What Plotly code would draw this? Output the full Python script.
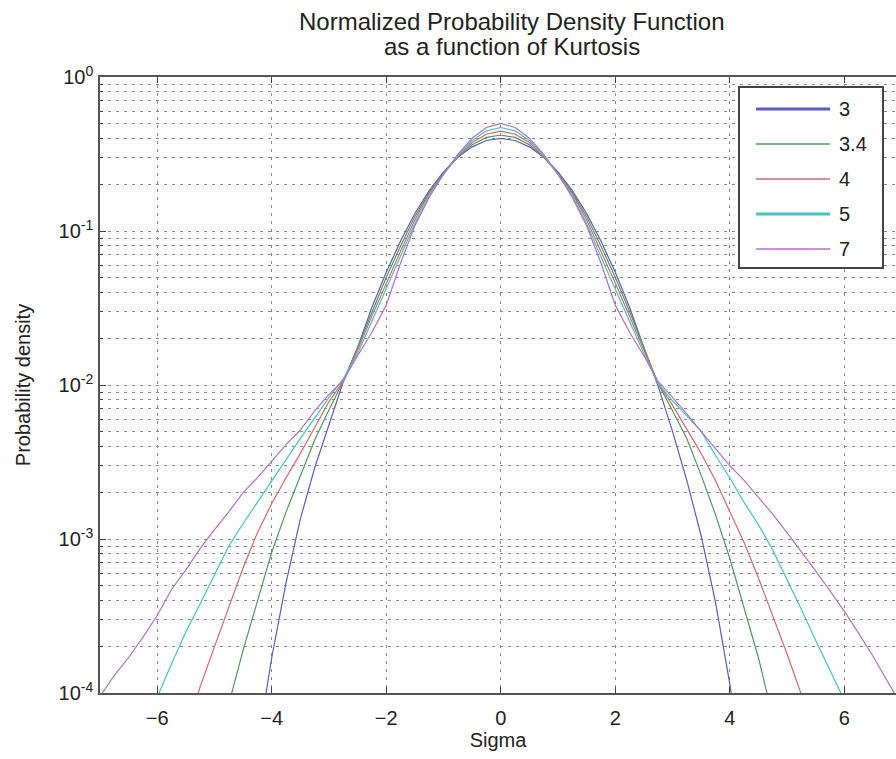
import plotly.graph_objects as go

# ---------------- data ----------------
kurtosis_names = ["3", "3.4", "4", "5", "7"]

x_k3 = [-4.25, -4.0, -3.75, -3.5, -3.25, -3.0, -2.75, -2.5, -2.25, -2.0, -1.75, -1.5, -1.25, -1.0,
        -0.75, -0.5, -0.25, 0.0, 0.25, 0.5, 0.75, 1.0, 1.25, 1.5, 1.75, 2.0, 2.25, 2.5, 2.75, 3.0,
        3.25, 3.5, 3.75, 4.0, 4.25]
y_k3 = [4.5e-5, 1.7e-4, 5.2e-4, 1.35e-3, 2.9e-3, 5.5e-3, 1.05e-2, 1.75e-2, 3.2e-2, 5.4e-2, 8.6e-2,
        0.130, 0.183, 0.242, 0.301, 0.352, 0.387, 0.399, 0.387, 0.352, 0.301, 0.242, 0.183, 0.130,
        0.086, 0.054, 0.032, 0.0175, 0.0098, 0.0050, 0.0024, 0.00105, 3.9e-4, 1.15e-4, 2.8e-5]

x_k34 = [-5.0, -4.75, -4.5, -4.25, -4.0, -3.75, -3.5, -3.25, -3.0, -2.75, -2.5, -2.25, -2.0, -1.75,
         -1.5, -1.25, -1.0, -0.75, -0.5, -0.25, 0.0, 0.25, 0.5, 0.75, 1.0, 1.25, 1.5, 1.75, 2.0,
         2.25, 2.5, 2.75, 3.0, 3.25, 3.5, 3.75, 4.0, 4.25, 4.5, 4.75, 5.0]
y_k34 = [4.0e-5, 8.5e-5, 1.9e-4, 4.0e-4, 8.2e-4, 1.5e-3, 2.6e-3, 4.4e-3, 6.9e-3, 1.06e-2, 1.75e-2,
         3.0e-2, 5.0e-2, 8.0e-2, 0.124, 0.178, 0.238, 0.302, 0.363, 0.405, 0.420, 0.405, 0.363,
         0.302, 0.238, 0.178, 0.124, 0.080, 0.050, 0.030, 0.0175, 0.0102, 0.0068, 0.0045, 0.0026,
         0.00144, 7.5e-4, 3.6e-4, 1.7e-4, 7.0e-5, 3.0e-5]

x_k4 = [-5.5, -5.25, -5.0, -4.75, -4.5, -4.25, -4.0, -3.75, -3.5, -3.25, -3.0, -2.75, -2.5, -2.25,
        -2.0, -1.75, -1.5, -1.25, -1.0, -0.75, -0.5, -0.25, 0.0, 0.25, 0.5, 0.75, 1.0, 1.25, 1.5,
        1.75, 2.0, 2.25, 2.5, 2.75, 3.0, 3.25, 3.5, 3.75, 4.0, 4.25, 4.5, 4.75, 5.0, 5.25, 5.5]
y_k4 = [5.5e-5, 1.1e-4, 2.0e-4, 3.6e-4, 6.5e-4, 1.1e-3, 1.7e-3, 2.5e-3, 3.6e-3, 5.3e-3, 7.8e-3,
        1.06e-2, 1.68e-2, 2.8e-2, 4.6e-2, 7.4e-2, 0.118, 0.175, 0.234, 0.305, 0.375, 0.425, 0.445,
        0.425, 0.375, 0.305, 0.234, 0.175, 0.118, 0.074, 0.046, 0.028, 0.0168, 0.0102, 0.0074,
        0.0052, 0.0036, 0.0024, 0.0015, 9.5e-4, 5.6e-4, 3.2e-4, 1.8e-4, 9.8e-5, 5.0e-5]

x_k5 = [-6.25, -6.0, -5.75, -5.5, -5.25, -5.0, -4.75, -4.5, -4.25, -4.0, -3.75, -3.5, -3.25, -3.0,
        -2.75, -2.5, -2.25, -2.0, -1.75, -1.5, -1.25, -1.0, -0.75, -0.5, -0.25, 0.0, 0.25, 0.5,
        0.75, 1.0, 1.25, 1.5, 1.75, 2.0, 2.25, 2.5, 2.75, 3.0, 3.25, 3.5, 3.75, 4.0, 4.25, 4.5,
        4.75, 5.0, 5.25, 5.5, 5.75, 6.0, 6.25]
y_k5 = [5.0e-5, 9.4e-5, 1.55e-4, 2.5e-4, 3.8e-4, 5.9e-4, 9.0e-4, 1.26e-3, 1.74e-3, 2.4e-3, 3.3e-3,
        4.5e-3, 6.1e-3, 8.3e-3, 1.1e-2, 1.6e-2, 2.6e-2, 4.2e-2, 6.8e-2, 0.112, 0.170, 0.232, 0.310,
        0.387, 0.447, 0.470, 0.447, 0.387, 0.310, 0.232, 0.170, 0.112, 0.068, 0.042, 0.026, 0.016,
        0.0102, 0.0079, 0.0063, 0.0050, 0.0035, 0.0025, 0.00173, 0.00124, 8.5e-4, 5.5e-4, 3.5e-4,
        2.2e-4, 1.4e-4, 9.0e-5, 5.0e-5]

x_k7 = [-7.0, -6.75, -6.5, -6.25, -6.0, -5.75, -5.5, -5.25, -5.0, -4.75, -4.5, -4.25, -4.0, -3.75,
        -3.5, -3.25, -3.0, -2.75, -2.5, -2.25, -2.0, -1.75, -1.5, -1.25, -1.0, -0.75, -0.5, -0.25,
        0.0, 0.25, 0.5, 0.75, 1.0, 1.25, 1.5, 1.75, 2.0, 2.25, 2.5, 2.75, 3.0, 3.25, 3.5, 3.75,
        4.0, 4.25, 4.5, 4.75, 5.0, 5.25, 5.5, 5.75, 6.0, 6.25, 6.5, 6.75, 7.0]
y_k7 = [9.5e-5, 1.3e-4, 1.7e-4, 2.3e-4, 3.2e-4, 4.7e-4, 6.3e-4, 8.7e-4, 1.15e-3, 1.5e-3, 2.0e-3,
        2.5e-3, 3.2e-3, 4.1e-3, 5.1e-3, 6.8e-3, 8.7e-3, 1.07e-2, 1.55e-2, 2.2e-2, 3.3e-2, 6.2e-2,
        0.108, 0.165, 0.235, 0.315, 0.400, 0.470, 0.500, 0.470, 0.400, 0.315, 0.235, 0.165, 0.108,
        0.062, 0.033, 0.022, 0.0155, 0.0105, 8.3e-3, 6.5e-3, 5.0e-3, 3.9e-3, 3.0e-3, 2.4e-3,
        1.86e-3, 1.45e-3, 1.1e-3, 8.3e-4, 6.2e-4, 4.6e-4, 3.4e-4, 2.45e-4, 1.74e-4, 1.2e-4, 8.3e-5]

x_tick_vals = [-6, -4, -2, 0, 2, 4, 6]
x_tick_text = ["\u22126", "\u22124", "\u22122", "0", "2", "4", "6"]
y_tick_vals = [1e-4, 1e-3, 1e-2, 1e-1, 1e0]
y_tick_text = ["10<sup>-4</sup>", "10<sup>-3</sup>", "10<sup>-2</sup>",
               "10<sup>-1</sup>", "10<sup>0</sup>"]
y_minor_vals = [k * 10.0 ** e for e in range(-4, 0) for k in range(2, 10)]

# ---------------- styling ----------------
series_x = [x_k3, x_k34, x_k4, x_k5, x_k7]
series_y = [y_k3, y_k34, y_k4, y_k5, y_k7]
colors = ["#5c5cc8", "#4e9a5e", "#d46a6a", "#44c4c0", "#b46ec8"]
legend_widths = [3, 1.6, 1.6, 3, 1.6]
FONT = "Liberation Sans, Arial, Helvetica, sans-serif"
W, H = 896, 759
L, R, T, B = 100, 0, 77, 66
plot_w = W - L - R
plot_h = H - T - B


def px_x(p):
    return (p - L) / plot_w


def px_y(p):
    return (H - B - p) / plot_h


fig = go.Figure()
for name, xs, ys, c in zip(kurtosis_names, series_x, series_y, colors):
    fig.add_trace(go.Scatter(x=xs, y=ys, mode="lines", name=name,
                             line=dict(color=c, width=1.2), showlegend=False))

grid_common = dict(gridcolor="#8a8a8a", gridwidth=1, griddash="3px,5px")

fig.update_xaxes(range=[-7, -7 + plot_w / 57.25], tickmode="array", tickvals=x_tick_vals,
                 ticktext=x_tick_text, ticks="inside", ticklen=6, tickcolor="#444",
                 showline=True, linecolor="#555", linewidth=1.5, mirror="allticks",
                 showgrid=True, zeroline=False, ticklabelstandoff=6,
                 tickfont=dict(family=FONT, size=20, color="#222"),
                 title=dict(text="Sigma", font=dict(family=FONT, size=20, color="#222"),
                            standoff=5),
                 **grid_common)

fig.update_yaxes(type="log", range=[-4, 0], tickmode="array", tickvals=y_tick_vals,
                 ticktext=y_tick_text, ticks="inside", ticklen=6, tickcolor="#444",
                 showline=True, linecolor="#555", linewidth=1.5, mirror=False,
                 showgrid=True, zeroline=False, ticklabelstandoff=1,
                 tickfont=dict(family=FONT, size=20, color="#222"),
                 minor=dict(tickmode="array", tickvals=y_minor_vals, ticks="inside", ticklen=3,
                            tickcolor="#444", showgrid=True, **grid_common),
                 title=dict(text="Probability density",
                            font=dict(family=FONT, size=20, color="#222"), standoff=23),
                 **grid_common)

# title as two lines
title_x = px_x(512)
fig.add_annotation(text="Normalized Probability Density Function", xref="paper", yref="paper",
                   x=title_x, y=px_y(21.5), xanchor="center", yanchor="middle", showarrow=False,
                   font=dict(family=FONT, size=24, color="#222"))
fig.add_annotation(text="as a function of Kurtosis", xref="paper", yref="paper",
                   x=title_x, y=px_y(46.5), xanchor="center", yanchor="middle", showarrow=False,
                   font=dict(family=FONT, size=24, color="#222"))

# legend box drawn like the MATLAB one
fig.add_shape(type="rect", xref="paper", yref="paper", x0=px_x(739), x1=px_x(883),
              y0=px_y(268), y1=px_y(87), line=dict(color="#444", width=2),
              fillcolor="white", layer="above")
legend_rows = [109, 144, 179, 214, 249]
for name, c, lw, row in zip(kurtosis_names, colors, legend_widths, legend_rows):
    fig.add_shape(type="line", xref="paper", yref="paper", x0=px_x(756), x1=px_x(830),
                  y0=px_y(row), y1=px_y(row), line=dict(color=c, width=lw), layer="above")
    fig.add_annotation(text=name, xref="paper", yref="paper", x=px_x(837), y=px_y(row),
                       xanchor="left", yanchor="middle", showarrow=False,
                       font=dict(family=FONT, size=20, color="#222"))

fig.update_layout(width=W, height=H, margin=dict(l=L, r=R, t=T, b=B, autoexpand=False),
                  paper_bgcolor="white", plot_bgcolor="white", showlegend=False,
                  font=dict(family=FONT, color="#222"))

fig.write_html("out.html")
